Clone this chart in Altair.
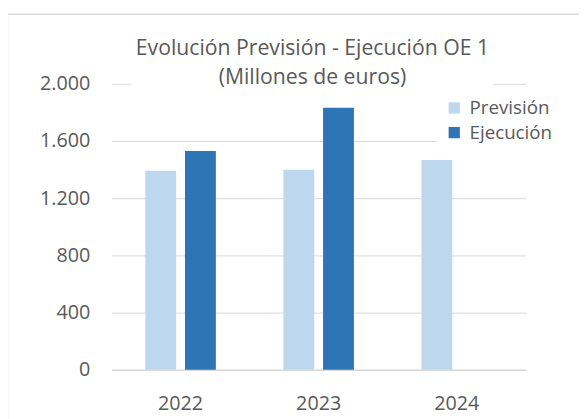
import altair as alt
import pandas as pd

years = ["2022", "2023", "2024"]
series = ["Previsión", "Ejecución"]
prevision = [1392, 1399, 1468]
ejecucion = [1530, 1833, None]
y_ticks = [0, 400, 800, 1200, 1600, 2000]
colors = ["#BDD7EE", "#2E75B6"]
title_lines = ["Evolución Previsión - Ejecución OE 1", "(Millones de euros)"]

rows = []
for yr, p, e in zip(years, prevision, ejecucion):
    rows.append({"year": yr, "serie": series[0], "value": p})
    if e is not None:
        rows.append({"year": yr, "serie": series[1], "value": e})
df = pd.DataFrame(rows)

FONT = "Open Sans"
GREY = "#595959"
one = pd.DataFrame({"k": [0]})

frame = alt.Chart(one).mark_rect(
    fill="transparent", stroke="#D9D9D9", strokeWidth=1.5
).encode(
    x=alt.value(-105.5), x2=alt.value(600), y=alt.value(-70.5), y2=alt.value(500)
)

mask_title = alt.Chart(one).mark_rect(fill="white").encode(
    x=alt.value(20), x2=alt.value(387), y=alt.value(-45), y2=alt.value(10)
)
mask_legend = alt.Chart(one).mark_rect(fill="white").encode(
    x=alt.value(330), x2=alt.value(430), y=alt.value(12), y2=alt.value(66)
)

title1 = alt.Chart(one).mark_text(
    text=title_lines[0], font=FONT, fontSize=21.5, color=GREY,
    align="center", baseline="alphabetic"
).encode(x=alt.value(203.7), y=alt.value(-29.7))
title2 = alt.Chart(one).mark_text(
    text=title_lines[1], font=FONT, fontSize=21.5, color=GREY,
    align="center", baseline="alphabetic"
).encode(x=alt.value(203.7), y=alt.value(-0.3))

bars = alt.Chart(df).mark_bar().encode(
    x=alt.X("year:N", sort=years, title=None,
            scale=alt.Scale(paddingInner=0.489, paddingOuter=0.2445),
            axis=alt.Axis(labelAngle=0, labelFontSize=20, labelColor=GREY,
                          labelFont=FONT, ticks=False, domain=True,
                          domainColor="#D9D9D9", domainWidth=1.5,
                          labelPadding=24, grid=False)),
    xOffset=alt.XOffset("serie:N", sort=series,
                        scale=alt.Scale(paddingInner=0.222, paddingOuter=0)),
    y=alt.Y("value:Q", title=None,
            scale=alt.Scale(domain=[0, 2000], nice=False),
            axis=alt.Axis(values=y_ticks, labelFontSize=20, labelColor=GREY,
                          labelFont=FONT, ticks=False, domain=False,
                          labelPadding=22, gridColor="#D9D9D9", gridWidth=1,
                          labelExpr="replace(format(datum.value, ','), ',', '.')")),
    color=alt.Color("serie:N", sort=series,
                    scale=alt.Scale(domain=series, range=colors),
                    legend=alt.Legend(title=None, orient="none", legendX=338,
                                      legendY=15, symbolType="square",
                                      symbolSize=130, symbolStrokeWidth=0,
                                      labelFontSize=19, labelColor=GREY,
                                      labelFont=FONT, labelOffset=6,
                                      rowPadding=5, padding=0)),
)

chart = alt.layer(frame, mask_title, mask_legend, title1, title2, bars).properties(
    width=420, height=290,
    autosize=alt.AutoSizeParams(type="none"),
    padding={"left": 105, "top": 74, "right": 54, "bottom": 47},
    background="white",
).configure_view(stroke=None)

chart.save("out.html", embed_options={"renderer": "svg", "actions": False})
